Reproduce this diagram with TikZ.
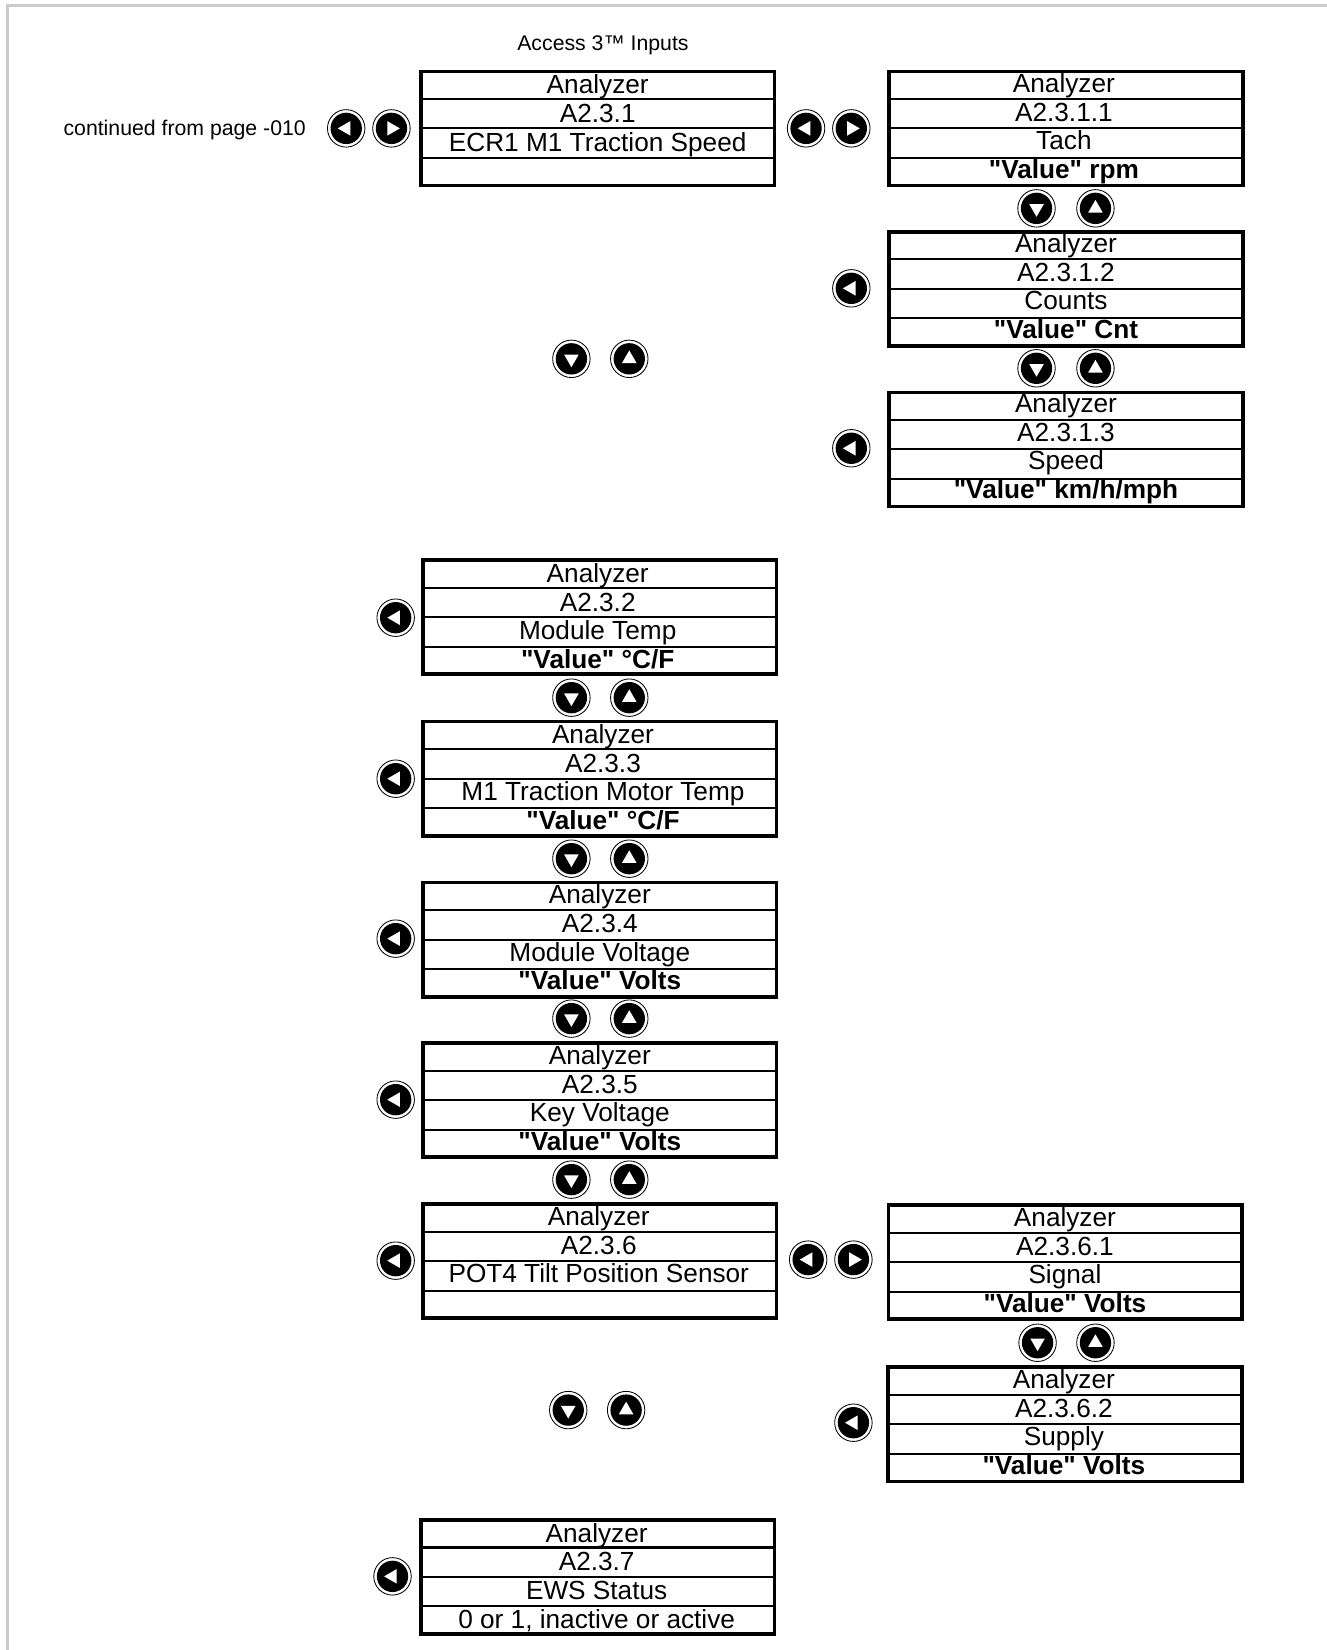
\documentclass[tikz,border=0pt]{standalone}
\usepackage{fontspec}
\setmainfont{Liberation Sans}[Ligatures=TeXOff]
\usetikzlibrary{calc,shapes.geometric}
\tikzset{
  menubox/.style={draw,line width=1.7pt,minimum width=168pt,minimum height=54.2pt,inner sep=0pt},
  menurow/.style={anchor=base,inner sep=0pt,font=\fontsize{12.45}{14}\selectfont},
  navring/.style={circle,draw,fill=white,line width=.4pt,minimum size=17.8pt,inner sep=0pt},
  navdisc/.style={circle,fill=black,minimum size=14.9pt,inner sep=0pt},
  navtip/.style={regular polygon,regular polygon sides=3,fill=white,minimum size=8pt,inner sep=0pt},
  smalltext/.style={inner sep=0pt,font=\fontsize{10.1}{12}\selectfont}
}
% name, box centre x, y, text centre x, first baseline, three lower rows
\newcommand{\analyzerbox}[8]{
  \node[menubox](#1) at (#2,#3){};
  \foreach \f in {.25,.5,.75}
    \draw[line width=1pt] ($(#1.north west)!\f!(#1.south west)$) -- ($(#1.north east)!\f!(#1.south east)$);
  \node[menurow](#1-a) at (#4,#5){Analyzer};
  \node[menurow](#1-b) at (#4,#5+27.2){#6};
  \node[menurow](#1-c) at (#4,#5+54.4){#7};
  \node[menurow](#1-d) at (#4,#5+81.6){#8};
}
\begin{document}
\begin{tikzpicture}[x=.5pt,y=-.5pt]
  \useasboundingbox (0,0) rectangle (1261,1568);
  \draw[line width=1.5pt,color={rgb,255:red,204;green,204;blue,204}] (7,1568) -- (7,5) -- (1261,5);

  \node[smalltext](title) at (573,43){Access 3™ Inputs};
  \node[smalltext,anchor=west](from) at (60,124){continued from page -010};

  \analyzerbox{a231}{568}{122}{568}{89.3}{A2.3.1}{ECR1 M1 Traction Speed}{}
  \analyzerbox{a2311}{1013}{122}{1011}{88}{A2.3.1.1}{Tach}{\textbf{"Value" rpm}}
  \analyzerbox{a2312}{1013}{274.5}{1013}{240}{A2.3.1.2}{Counts}{\textbf{"Value" Cnt}}
  \analyzerbox{a2313}{1013}{427}{1013}{392}{A2.3.1.3}{Speed}{\textbf{"Value" km/h/mph}}
  \analyzerbox{a232}{570}{586.5}{568}{553.5}{A2.3.2}{Module Temp}{\textbf{"Value" °C/F}}
  \analyzerbox{a233}{570}{740}{573}{706.5}{A2.3.3}{M1 Traction Motor Temp}{\textbf{"Value" °C/F}}
  \analyzerbox{a234}{570}{893}{570}{859}{A2.3.4}{Module Voltage}{\textbf{"Value" Volts}}
  \analyzerbox{a235}{570}{1045.5}{570}{1011.5}{A2.3.5}{Key Voltage}{\textbf{"Value" Volts}}
  \analyzerbox{a236}{570}{1198.5}{569}{1164.5}{A2.3.6}{POT4 Tilt Position Sensor}{}
  \analyzerbox{a2361}{1012.5}{1199.5}{1012}{1165.5}{A2.3.6.1}{Signal}{\textbf{"Value" Volts}}
  \analyzerbox{a2362}{1012}{1353.5}{1011}{1319.5}{A2.3.6.2}{Supply}{\textbf{"Value" Volts}}
  \analyzerbox{a237}{568}{1498.5}{567}{1465.5}{A2.3.7}{EWS Status}{0 or 1, inactive or active}

  % left 90, right -90, up 0, down 180
  \foreach \n/\x/\y/\r in {
    ka/329/122/90,kb/372/122/-90,kc/766/122/90,kd/809/122/-90,
    ke/985/198/180,kf/1041/198/0,kg/809/274/90,
    kh/985/350/180,ki/1041/350/0,kj/809/426/90,
    kk/543/341/180,kl/598/341/0,km/376/587/90,
    kn/543/663/180,ko/598/663/0,kp/376/740/90,
    kq/543/816/180,kr/598/816/0,ks/376/892/90,
    kt/543/968/180,ku/598/968/0,kv/376/1045/90,
    kw/543/1121/180,kx/598/1121/0,ky/376/1198/90,
    kz/768/1197/90,laa/811/1197/-90,
    lb/986/1276/180,lc/1041/1276/0,ld/811/1352/90,
    le/540/1340/180,lf/595/1340/0,lg/373/1498/90}{
    \node[navring](\n) at (\x,\y){};
    \node[navdisc](\n-d) at (\n){};
    \node[navtip,shape border rotate=\r](\n-t) at (\n){};
  }
\end{tikzpicture}
\end{document}
